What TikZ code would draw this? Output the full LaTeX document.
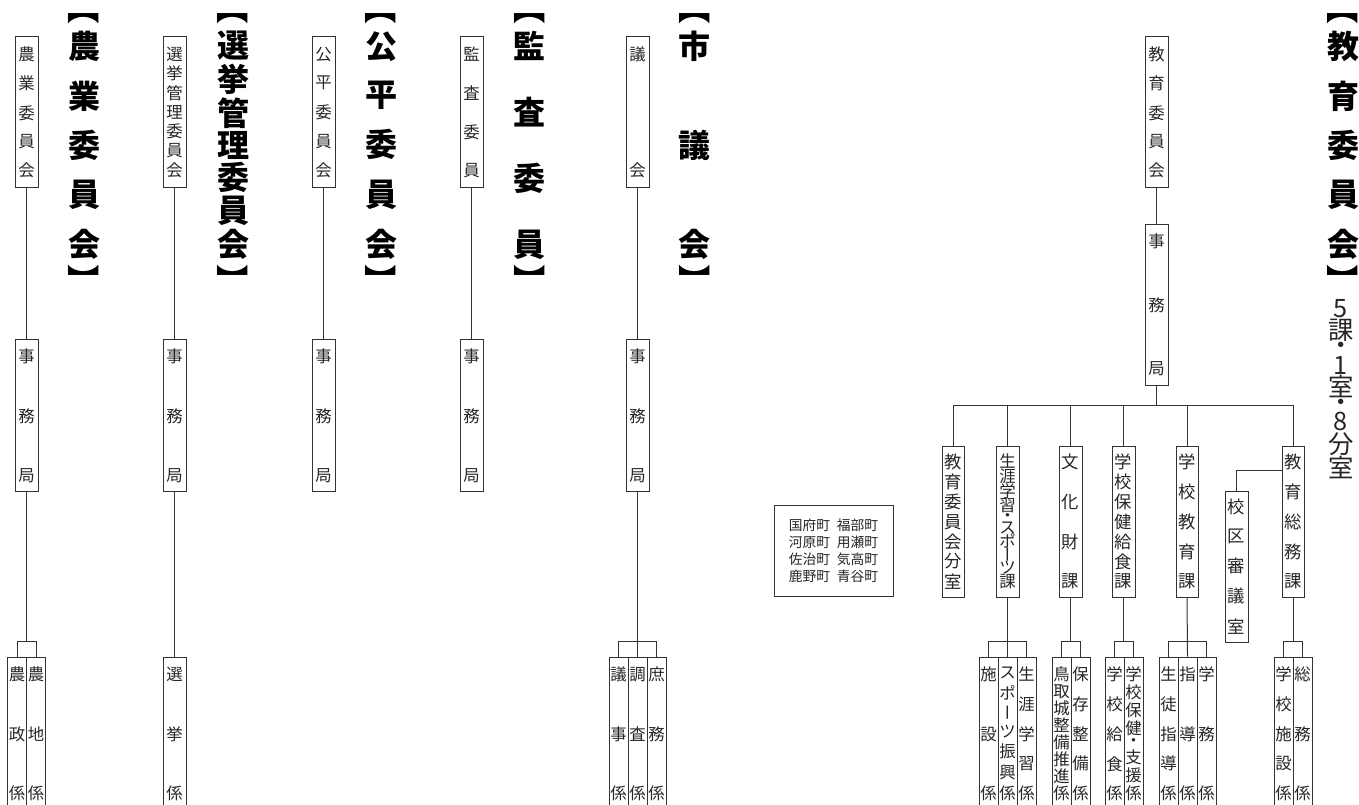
\documentclass[tikz,border=0pt]{standalone}
\usepackage{fontspec}
\newfontfamily\jpv{Noto Sans CJK JP}
\newfontfamily\jph{Noto Sans CJK JP}
\usetikzlibrary{calc}
\makeatletter
\def\vj@end{\vj@end}
\def\vj@box#1{\hbox to 0pt{\hss#1\hss}}
\def\vj@first#1{\vj@box{#1}\vj@next}
\def\vj@next#1{\ifx\vj@end#1\else\vfill\vj@box{#1}\expandafter\vj@next\fi}
\newcommand\VJ[2]{\vbox to #1{\offinterlineskip\vj@first#2\vj@end\kern0pt}}
\makeatother
% glyph box cropped to its ink horizontally
\newcommand\inkh[1]{\hbox{\kern-\XeTeXglyphbounds1 \XeTeXcharglyph`#1\relax #1\kern-\XeTeXglyphbounds3 \XeTeXcharglyph`#1\relax}}
% long vowel mark turned for vertical setting
\newcommand\VR[1]{\rotatebox{-90}{\raisebox{-0.38em}[0.06em][0.06em]{\inkh{#1}}}}
\newcommand\fs{\jpv\fontsize{12.3pt}{12.3pt}\selectfont}
\newcommand\fm{\jpv\fontsize{13pt}{13pt}\selectfont}
\newcommand\fh{\jpv\bfseries\fontsize{24pt}{24pt}\selectfont}
\newcommand\fn{\jpv\fontsize{19pt}{19pt}\selectfont}
\newcommand\ft{\jph\fontsize{10.3pt}{12.75pt}\selectfont}
\tikzset{
  bxs/.style={draw=black!80, line width=0.75pt, inner sep=0pt, text=black!85},
  ln/.style={draw=black!80, line width=0.75pt},
  hds/.style={inner sep=0pt, font=\fh, text=black}
}
% name, xl, xr, yt, yb, pad, font, chars
\newcommand\bx[8]{%
  \pgfmathsetlengthmacro\bxh{(#5-#4-2*#6)*0.75pt}%
  \node[bxs, font=#7, minimum width={(#3-#2)*0.75pt}, minimum height={(#5-#4)*0.75pt}] (#1) at ({(#2+#3)/2},{(#4+#5)/2}) {\VJ{\bxh}{#8}};}
% name, x, chars
\newcommand\hd[3]{%
  \node[hds, anchor=north] (#1a) at (#2,13) {\rotatebox{-90}{\inkh{【}}};
  \node[hds, anchor=south] (#1c) at (#2,276) {\rotatebox{-90}{\inkh{】}}};
  \node[hds, anchor=north] (#1b) at (#2,31) {\VJ{171pt}{#3}};}
\begin{document}
\begin{tikzpicture}[x=0.75pt, y=-0.75pt]
\clip (0,0) rectangle (1359,805);
\fill[white] (0,0) rectangle (1359,805);

% headings
\hd{h1}{84}{農業委員会}
\hd{h2}{233}{選挙管理委員会}
\hd{h3}{381}{公平委員会}
\hd{h4}{529.5}{監査委員}
\hd{h5}{694.5}{市議会}
\hd{h6}{1343}{教育委員会}
\node[inner sep=0pt, anchor=north, font=\fn, text=black!85] (cnt) at (1341,299) {\VJ{135pt}{5課・1室・8分室}};

% 農業委員会
\bx{n1}{15}{38}{37}{188}{10}{\fs}{農業委員会}
\bx{n2}{15}{38}{340}{491}{8.5}{\fs}{事務局}
\bx{n3}{7.5}{26.5}{657}{811}{10}{\fs}{農政係}
\bx{n4}{26.5}{45.5}{657}{811}{10}{\fs}{農地係}
% 選挙管理委員会
\bx{s1}{163}{186}{37}{188}{10}{\fs}{選挙管理委員会}
\bx{s2}{163}{186}{340}{491}{8.5}{\fs}{事務局}
\bx{s3}{163}{186}{657}{811}{10}{\fs}{選挙係}
% 公平委員会
\bx{p1}{312}{335}{37}{188}{10}{\fs}{公平委員会}
\bx{p2}{312}{335}{340}{491}{8.5}{\fs}{事務局}
% 監査委員
\bx{k1}{460}{483}{37}{188}{10}{\fs}{監査委員}
\bx{k2}{460}{483}{340}{491}{8.5}{\fs}{事務局}
% 市議会
\bx{g1}{626}{649}{37}{188}{10}{\fs}{議会}
\bx{g2}{626}{649}{340}{491}{8.5}{\fs}{事務局}
\bx{g3}{609}{628}{657}{811}{10}{\fs}{議事係}
\bx{g4}{628}{647}{657}{811}{10}{\fs}{調査係}
\bx{g5}{647}{666}{657}{811}{10}{\fs}{庶務係}

% 教育委員会
\bx{e1}{1145}{1168}{37}{188}{10}{\fs}{教育委員会}
\bx{e2}{1145}{1168}{225}{385}{9}{\fs}{事務局}
\bx{d1}{942}{964}{446}{597}{8}{\fm}{教育委員会分室}
\bx{d2}{996}{1019}{446}{597}{8}{\fs}{生涯学習・スポ{\VR{ー}}ツ課}
\bx{d3}{1059}{1082}{446}{597}{8}{\fm}{文化財課}
\bx{d4}{1112}{1135}{446}{597}{8}{\fm}{学校保健給食課}
\bx{d5}{1176}{1198}{446}{597}{8}{\fm}{学校教育課}
\bx{d6}{1282}{1304}{446}{597}{8}{\fm}{教育総務課}
\bx{kk}{1225}{1248}{491}{642}{8}{\fm}{校区審議室}
\bx{c21}{979}{998}{657}{811}{10}{\fs}{施設係}
\bx{c22}{998}{1017}{657}{811}{10}{\fs}{スポ{\VR{ー}}ツ振興係}
\bx{c23}{1017}{1036}{657}{811}{10}{\fs}{生涯学習係}
\bx{c31}{1052}{1071}{657}{811}{10}{\fs}{鳥取城整備推進係}
\bx{c32}{1071}{1090}{657}{811}{10}{\fs}{保存整備係}
\bx{c41}{1105}{1124}{657}{811}{10}{\fs}{学校給食係}
\bx{c42}{1124}{1143}{657}{811}{10}{\fs}{学校保健・支援係}
\bx{c51}{1159}{1178}{657}{811}{10}{\fs}{生徒指導係}
\bx{c52}{1178}{1197}{657}{811}{10}{\fs}{指導係}
\bx{c53}{1197}{1216}{657}{811}{10}{\fs}{学務係}
\bx{c61}{1274}{1293}{657}{811}{10}{\fs}{学校施設係}
\bx{c62}{1293}{1312}{657}{811}{10}{\fs}{総務係}

% town list
\node[draw=black!80, line width=0.75pt, minimum width=89.25pt, minimum height=68.25pt, align=center, font=\ft, text=black!85, inner sep=0pt] (town) at (833.5,550.5)
  {国府町\hspace{0.5em}福部町\\河原町\hspace{0.5em}用瀬町\\佐治町\hspace{0.5em}気高町\\鹿野町\hspace{0.5em}青谷町};

% connectors
\draw[ln] (n1.south) -- (n2.north);
\draw[ln] (n3.north) -- ++(0,-15) coordinate (n3t) -| (n4.north);
\draw[ln] (n2.south) -- (n2.south |- n3t);
\draw[ln] (s1.south) -- (s2.north);
\draw[ln] (s2.south) -- (s3.north);
\draw[ln] (p1.south) -- (p2.north);
\draw[ln] (k1.south) -- (k2.north);
\draw[ln] (g1.south) -- (g2.north);
\draw[ln] (g3.north) -- ++(0,-15) -| (g5.north);
\draw[ln] (g2.south) -- (g4.north);

\draw[ln] (e1.south) -- (e2.north);
\draw[ln] (d1.north) -- ++(0,-40) coordinate (bus) -| (d6.north);
\draw[ln] (e2.south) -- (e2.south |- bus);
\foreach \d in {d2,d3,d4,d5} { \draw[ln] (\d.north) -- (\d.north |- bus); }
\draw[ln] (kk.north) |- ($(d6.north west)+(0,25)$);

\draw[ln] (c21.north) -- ++(0,-15) -| (c23.north);
\draw[ln] (d2.south) -- (c22.north);
\draw[ln] (c31.north) -- ++(0,-15) coordinate (t3) -| (c32.north);
\draw[ln] (d3.south) -- (d3.south |- t3);
\draw[ln] (c41.north) -- ++(0,-15) coordinate (t4) -| (c42.north);
\draw[ln] (d4.south) -- (d4.south |- t4);
\draw[ln] (c51.north) -- ++(0,-15) -| (c53.north);
\draw[ln] (d5.south) -- (c52.north);
\draw[ln] (c61.north) -- ++(0,-15) coordinate (t6) -| (c62.north);
\draw[ln] (d6.south) -- (d6.south |- t6);
\end{tikzpicture}
\end{document}
